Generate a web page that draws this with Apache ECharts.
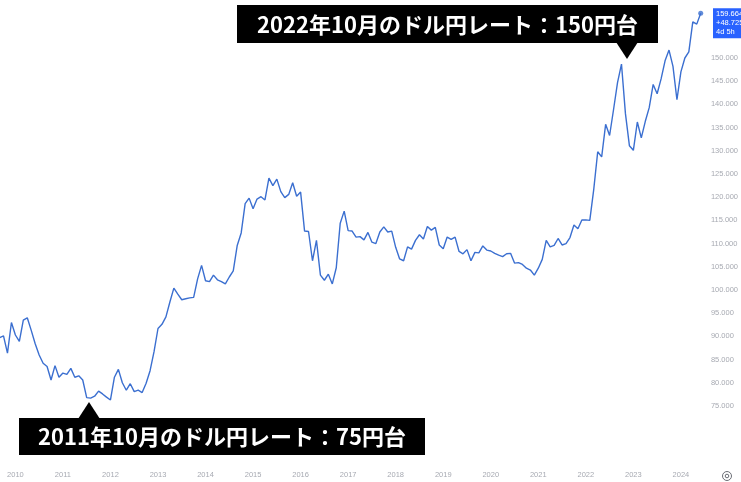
<!DOCTYPE html>
<html>
<head>
<meta charset="utf-8">
<script src="https://cdn.jsdelivr.net/npm/echarts@6/dist/echarts.min.js"></script>
<style>
html,body{margin:0;padding:0;background:#fff;}
#chart{width:741px;height:482px;}
</style>
</head>
<body>
<div id="chart"></div>
<script>
// Monthly USD/JPY closes, Sep 2009 – Jun 2024
const startYear = 2009, startMonth = 9;
const usdjpy = [
  89.7, 90.1, 86.4, 93.0,
  90.3, 88.9, 93.5, 94.0, 91.3, 88.4, 86.0, 84.2, 83.5, 80.6, 83.7, 81.2,
  82.1, 81.8, 83.1, 81.2, 81.5, 80.6, 76.8, 76.7, 77.1, 78.2, 77.6, 76.9,
  76.3, 81.2, 82.9, 80.0, 78.4, 79.8, 78.1, 78.4, 77.9, 79.9, 82.6, 86.7,
  91.7, 92.6, 94.2, 97.4, 100.4, 99.1, 97.9, 98.1, 98.3, 98.4, 102.4, 105.3,
  102.0, 101.8, 103.2, 102.2, 101.8, 101.3, 102.8, 104.1, 109.6, 112.3, 118.6, 119.8,
  117.5, 119.6, 120.1, 119.4, 124.1, 122.5, 123.9, 121.2, 119.9, 120.6, 123.1, 120.2,
  121.1, 112.7, 112.6, 106.3, 110.7, 103.2, 102.1, 103.4, 101.3, 104.8, 114.4, 117.0,
  112.8, 112.7, 111.4, 111.5, 110.8, 112.4, 110.3, 110.0, 112.5, 113.6, 112.5, 112.7,
  109.2, 106.7, 106.3, 109.3, 108.8, 110.7, 111.9, 111.0, 113.7, 112.9, 113.5, 109.7,
  108.9, 111.4, 110.9, 111.4, 108.3, 107.8, 108.7, 106.3, 108.1, 108.0, 109.5, 108.6,
  108.4, 107.9, 107.5, 107.2, 107.8, 107.9, 105.8, 105.9, 105.5, 104.7, 104.3, 103.2,
  104.7, 106.6, 110.7, 109.3, 109.6, 111.1, 109.7, 110.0, 111.3, 114.0, 113.2, 115.1,
  115.1, 115.0, 121.7, 129.8, 128.7, 135.7, 133.3, 138.9, 144.7, 148.7, 138.0, 131.1,
  130.1, 136.2, 132.8, 136.3, 139.3, 144.3, 142.3, 145.5, 149.4, 151.7, 148.2, 141.0,
  147.0, 150.0, 151.3, 157.8, 157.3, 159.664
];
const yearLabels = ['2010','2011','2012','2013','2014','2015','2016','2017','2018','2019','2020','2021','2022','2023','2024'];
const priceTicks = [75,80,85,90,95,100,105,110,115,120,125,130,135,140,145,150];
const badgeLines = ['159.664', '+48.725 (+43.92%)', '4d 5h'];
const noteTop = '2022年10月のドル円レート：150円台';
const noteBottom = '2011年10月のドル円レート：75円台';

// month categories (YYYY-MM) and their offset in months from Jan 2010
const months = usdjpy.map((_, i) => {
  const t = (startYear * 12 + startMonth - 1) + i;
  const y = Math.floor(t / 12), m = t % 12 + 1;
  return y + '-' + String(m).padStart(2, '0');
});
const baseYear = Number(yearLabels[0]);
const monthIndex = s => { const [y, m] = s.split('-').map(Number); return (y - baseYear) * 12 + (m - 1); };
const seriesData = months.map((s, i) => [monthIndex(s), usdjpy[i]]);
const yearTicks = yearLabels.map(y => (Number(y) - baseYear) * 12);

const LINE = '#3b6fd0';
const LABEL = '#a7aab2';
const chart = echarts.init(document.getElementById('chart'), null, {renderer: 'canvas'});
const lastPt = seriesData[seriesData.length - 1];

chart.setOption({
  animation: false,
  backgroundColor: '#ffffff',
  grid: {left: 0, right: 29, top: 0, bottom: 17, containLabel: false},
  xAxis: {
    type: 'value', min: -3.885, max: 174.56,
    axisLine: {show: false}, axisTick: {show: false}, splitLine: {show: false},
    axisLabel: {
      customValues: yearTicks, margin: 6,
      color: LABEL, fontSize: 7.5, fontFamily: 'Liberation Sans',
      formatter: v => yearLabels[Math.round(v / 12)] || ''
    }
  },
  yAxis: {
    type: 'value', position: 'right', min: 62.28, max: 162.5,
    axisLine: {show: false}, axisTick: {show: false}, splitLine: {show: false},
    axisLabel: {
      customValues: priceTicks, margin: 4,
      color: LABEL, fontSize: 7.5, fontFamily: 'Liberation Sans',
      formatter: v => v.toFixed(3)
    }
  },
  series: [
    {type: 'line', data: seriesData, showSymbol: false, smooth: false,
     lineStyle: {color: LINE, width: 1.4}, clip: true},
    {type: 'scatter', data: [lastPt], symbolSize: 5, itemStyle: {color: LINE}}
  ]
});

const [lx, ly] = chart.convertToPixel({seriesIndex: 0}, lastPt);
const gridRight = 741 - 29;
chart.setOption({
  graphic: [
    // last value badge
    {type: 'rect', shape: {x: gridRight + 1, y: ly - 5, width: 40, height: 30}, style: {fill: '#2962ff'}},
    {type: 'text', x: gridRight + 4, y: ly + 1, style: {text: badgeLines[0], fill: '#fff', font: '7.5px "Liberation Sans"', verticalAlign: 'middle'}},
    {type: 'text', x: gridRight + 4, y: ly + 10, style: {text: badgeLines[1], fill: '#fff', font: '7.5px "Liberation Sans"', verticalAlign: 'middle'}},
    {type: 'text', x: gridRight + 4, y: ly + 19, style: {text: badgeLines[2], fill: '#fff', font: '7.5px "Liberation Sans"', verticalAlign: 'middle'}},
    // top annotation
    {type: 'rect', shape: {x: 237, y: 5, width: 421, height: 38}, style: {fill: '#000'}},
    {type: 'polygon', shape: {points: [[616, 42], [638, 42], [627, 59]]}, style: {fill: '#000'}},
    {type: 'text', x: 447.5, y: 24.5, style: {text: noteTop, fill: '#fff', font: 'bold 22px "Noto Sans CJK JP"', align: 'center', verticalAlign: 'middle'}},
    // bottom annotation
    {type: 'rect', shape: {x: 19, y: 418, width: 406, height: 37}, style: {fill: '#000'}},
    {type: 'polygon', shape: {points: [[78, 419], [100, 419], [89, 402]]}, style: {fill: '#000'}},
    {type: 'text', x: 222, y: 437, style: {text: noteBottom, fill: '#fff', font: 'bold 22px "Noto Sans CJK JP"', align: 'center', verticalAlign: 'middle'}},
    // settings icon bottom-right
    {type: 'circle', shape: {cx: 727, cy: 476, r: 4.5}, style: {fill: 'none', stroke: '#6b6e76', lineWidth: 1}},
    {type: 'circle', shape: {cx: 727, cy: 476, r: 1.8}, style: {fill: 'none', stroke: '#6b6e76', lineWidth: 1}}
  ]
});
</script>
</body>
</html>
